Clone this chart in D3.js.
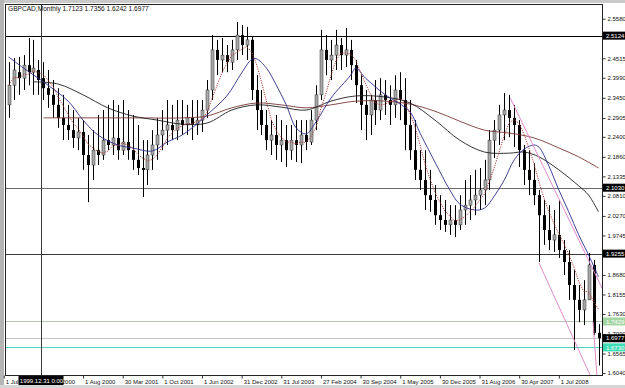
<!DOCTYPE html>
<html><head><meta charset="utf-8">
<script src="https://cdn.jsdelivr.net/npm/d3@7"></script>
<style>
body{margin:0;background:#fff;}
svg{display:block;}
text{font-family:"Liberation Sans",Arial,sans-serif;}
</style>
</head><body>
<svg id="c" width="625" height="388"></svg>
<script>
// ---------- DATA ----------
const symbolTitle = "GBPCAD,Monthly  1.7123 1.7356 1.6242 1.6977";
const opens = [2.326,2.379,2.414,2.398,2.433,2.414,2.420,2.398,2.371,2.353,
 2.326,2.291,2.272,2.258,2.237,2.253,2.191,2.164,2.204,2.191,
 2.231,2.218,2.237,2.204,2.226,2.204,2.178,2.156,2.151,2.191,
 2.218,2.245,2.258,2.272,2.258,2.285,2.272,2.291,2.272,2.285,
 2.312,2.366,2.474,2.447,2.460,2.441,2.474,2.514,2.487,2.501,
 2.366,2.312,2.272,2.231,2.245,2.218,2.231,2.204,2.231,2.218,
 2.245,
 2.226,2.285,2.353,2.474,2.447,2.460,2.487,2.460,2.474,2.433,
 2.379,2.326,2.299,2.339,2.312,2.353,2.339,2.326,2.366,2.339,
 2.272,2.204,2.151,2.124,2.083,2.070,2.029,2.016,2.003,2.016,
 2.003,2.043,2.056,2.070,2.083,2.097,2.124,2.231,2.258,2.299,
 2.312,2.291,2.272,2.204,2.151,2.124,2.083,2.029,1.989,1.962,
 1.976,1.935,1.903,1.841,1.801,1.774,1.801,1.895,1.7123];
const highs = [2.441,2.452,2.455,2.460,2.506,2.501,2.447,2.441,2.420,2.393,
 2.371,2.353,2.326,2.312,2.291,2.285,2.245,2.258,2.299,2.312,
 2.326,2.339,2.326,2.339,2.312,2.299,2.272,2.231,2.231,2.258,
 2.291,2.312,2.339,2.326,2.339,2.339,2.326,2.339,2.339,2.339,
 2.393,2.514,2.501,2.506,2.487,2.501,2.549,2.541,2.536,2.509,
 2.406,2.366,2.312,2.285,2.299,2.285,2.272,2.272,2.285,2.285,
 2.285,
 2.312,2.379,2.528,2.514,2.501,2.528,2.506,2.533,2.501,2.447,
 2.406,2.366,2.353,2.393,2.398,2.393,2.379,2.406,2.414,2.398,
 2.339,2.285,2.204,2.204,2.151,2.110,2.083,2.070,2.056,2.056,
 2.083,2.124,2.137,2.151,2.156,2.178,2.258,2.285,2.326,2.358,
 2.353,2.326,2.285,2.218,2.204,2.169,2.097,2.070,2.056,2.043,
 2.070,1.962,1.935,1.881,1.841,1.854,1.927,1.908,1.7356];
const lows = [2.291,2.339,2.353,2.366,2.379,2.353,2.353,2.339,2.318,2.291,
 2.264,2.231,2.231,2.210,2.204,2.151,2.064,2.124,2.164,2.178,
 2.204,2.191,2.178,2.191,2.178,2.151,2.137,2.078,2.110,2.151,
 2.178,2.204,2.218,2.231,2.231,2.245,2.245,2.231,2.245,2.253,
 2.291,2.339,2.406,2.414,2.414,2.420,2.447,2.460,2.447,2.339,
 2.258,2.245,2.204,2.191,2.178,2.172,2.159,2.178,2.172,2.169,
 2.204,
 2.218,2.258,2.339,2.406,2.393,2.420,2.420,2.428,2.393,2.331,
 2.258,2.231,2.245,2.272,2.285,2.299,2.272,2.291,2.285,2.204,
 2.178,2.124,2.097,2.043,2.038,2.003,1.989,1.984,1.976,1.970,
 1.989,2.003,2.016,2.029,2.043,2.056,2.097,2.183,2.218,2.231,
 2.239,2.212,2.159,2.110,2.083,2.056,1.903,1.949,1.935,1.930,
 1.914,1.868,1.801,1.666,1.741,1.733,1.801,1.706,1.6242];
const closes = [2.379,2.420,2.398,2.433,2.414,2.425,2.393,2.371,2.353,2.326,
 2.291,2.272,2.258,2.237,2.253,2.191,2.164,2.204,2.191,2.231,
 2.218,2.237,2.204,2.226,2.204,2.178,2.156,2.151,2.191,2.218,
 2.245,2.258,2.272,2.258,2.285,2.272,2.291,2.272,2.285,2.312,
 2.366,2.474,2.447,2.460,2.441,2.474,2.514,2.487,2.501,2.366,
 2.312,2.272,2.231,2.245,2.218,2.231,2.204,2.231,2.218,2.245,
 2.226,
 2.285,2.353,2.474,2.447,2.460,2.487,2.460,2.474,2.433,2.379,
 2.326,2.299,2.339,2.312,2.353,2.339,2.326,2.366,2.339,2.272,
 2.204,2.151,2.124,2.083,2.070,2.029,2.016,2.003,2.016,2.003,
 2.043,2.056,2.070,2.083,2.097,2.124,2.231,2.258,2.299,2.312,
 2.291,2.272,2.204,2.151,2.124,2.083,2.029,1.989,1.962,1.976,
 1.935,1.903,1.841,1.801,1.774,1.801,1.895,1.7123,1.6977];

// moving averages (bar index, price)
const blueIdx = [0,3,7,12,15,18,22,25,29,32,35,38,40,44,47,49,50,52,54,56,58,60,62,65,69,70,72,76,79,81,83,86,89,91,94,96,98,100,102,104,106,107,109,111,113,115,117,119];
const blueVal = [2.455,2.425,2.388,2.336,2.285,2.245,2.218,2.210,2.202,2.226,2.245,2.275,2.299,2.350,2.412,2.448,2.450,2.425,2.379,2.326,2.264,2.248,2.280,2.344,2.406,2.425,2.398,2.353,2.328,2.307,2.250,2.172,2.097,2.059,2.043,2.048,2.081,2.124,2.178,2.207,2.218,2.212,2.161,2.097,2.038,1.976,1.922,1.863];
const blackIdx = [5,10,15,20,25,30,35,40,45,50,55,60,65,70,76,81,86,91,96,101,104,107,111,115,117,119];
const blackVal = [2.388,2.382,2.353,2.318,2.296,2.285,2.274,2.277,2.312,2.326,2.320,2.312,2.336,2.350,2.347,2.331,2.285,2.231,2.199,2.196,2.199,2.186,2.151,2.108,2.083,2.038];
const maroonIdx = [7,15,25,35,40,45,50,55,60,65,70,76,81,86,91,96,101,106,111,115,119];
const maroonVal = [2.291,2.291,2.291,2.291,2.296,2.318,2.331,2.326,2.318,2.326,2.336,2.336,2.328,2.309,2.282,2.258,2.250,2.237,2.210,2.186,2.156];
const fastPeriod = 5;

// trend lines (bar index, price)
const trendLines = [
  [[101.2,2.3444],[119.7,1.8329]],
  [[107.0,1.9002],[119.3,1.5400]],
  [[117.9,1.7413],[119.0,1.5400]]
];

const priceTicks = [2.5580,2.4515,2.3990,2.3450,2.2905,2.2400,2.1860,2.1335,2.0810,2.0270,1.9745,1.8680,1.8155,1.7630,1.7090,1.6565,1.6040];
const levelPrices = [2.5124,2.1030,1.9255,1.7429,1.6977,1.6730];
const levelLineColors = ["#000000","#6a6a6a","#3a3a3a","#b3c7b3","#c4c4c4","#4dd3c6"];
const levelBoxColors  = ["#000000","#000000","#000000","#a3d6a3","#000000","#3ddbb6"];

const timeTickIndex = [-1,7,15,23,31,39,47,55,63,71,79,87,95,103,111];
const timeTickLabels = ["1 Jul 1999","1 Jan 2000","1 Aug 2000","30 Mar 2001","1 Oct 2001","1 Jun 2002","31 Dec 2002","31 Jul 2003","27 Feb 2004","30 Sep 2004","1 May 2005","30 Dec 2005","31 Aug 2006","30 Apr 2007","1 Jul 2008"];
const cursorIndex = 6.5;
const cursorLabel = "1999.12.31 0:00";

// ---------- LAYOUT ----------
const W=625,H=388,L=5,R=602,T=4,B=375;
const svg=d3.select("#c");
const x=d3.scaleLinear().domain([0,119]).range([8.7,598.5]);
const y=d3.scaleLinear().domain([1.5987,2.5976]).range([B,T]);

svg.append("rect").attr("width",W).attr("height",H).attr("fill","#fff");
// window chrome
svg.append("rect").attr("x",0).attr("y",0).attr("width",W).attr("height",3).attr("fill","#c9c9c9");
svg.append("rect").attr("x",0).attr("y",0).attr("width",4).attr("height",H).attr("fill","#b5b5b5");
svg.append("rect").attr("x",0).attr("y",385).attr("width",W).attr("height",3).attr("fill","#d6d6d6");

svg.append("defs").append("clipPath").attr("id","clip")
  .append("rect").attr("x",L).attr("y",T).attr("width",R-L).attr("height",B-T);
const plot=svg.append("g").attr("clip-path","url(#clip)");

// horizontal level lines
levelPrices.forEach((p,i)=>{
  const yy=Math.round(y(p))+0.5;
  plot.append("line").attr("x1",L).attr("x2",R).attr("y1",yy).attr("y2",yy)
    .attr("stroke",levelLineColors[i]).attr("stroke-width",1);
});
// cursor vertical line
const cx=Math.round(x(cursorIndex))+0.5;
plot.append("line").attr("x1",cx).attr("x2",cx).attr("y1",T).attr("y2",B)
  .attr("stroke","#3a3a3a").attr("stroke-width",1);

// candles
const bars=d3.range(closes.length).map(i=>({i,o:opens[i],h:highs[i],l:lows[i],c:closes[i]}));
const cg=plot.append("g");
bars.forEach(d=>{
  const xx=Math.round(x(d.i))+0.5;
  cg.append("line").attr("x1",xx).attr("x2",xx).attr("y1",y(d.h)).attr("y2",y(d.l))
    .attr("stroke","#000").attr("stroke-width",1);
  const top=y(Math.max(d.o,d.c)), bot=y(Math.min(d.o,d.c));
  const bull=d.c>=d.o;
  cg.append("rect").attr("x",xx-1.5).attr("y",top).attr("width",3).attr("height",Math.max(1,bot-top))
    .attr("fill",bull?"#a9a9a9":"#000").attr("stroke",bull?"#333":"none").attr("stroke-width",bull?0.5:0);
});

// moving averages
const mk=(idx,val)=>idx.map((v,k)=>[v,val[k]]);
const line=d3.line().x(d=>x(d[0])).y(d=>y(d[1])).curve(d3.curveCatmullRom);
plot.append("path").attr("d",line(mk(maroonIdx,maroonVal))).attr("fill","none").attr("stroke","#7a3535").attr("stroke-width",0.9);
plot.append("path").attr("d",line(mk(blackIdx,blackVal))).attr("fill","none").attr("stroke","#1e1e1e").attr("stroke-width",0.9);
plot.append("path").attr("d",line(mk(blueIdx,blueVal))).attr("fill","none").attr("stroke","#2e2e8e").attr("stroke-width",0.9);
const fast=closes.map((c,i)=>[i,d3.mean(closes.slice(Math.max(0,i-fastPeriod+1),i+1))]);
plot.append("path").attr("d",d3.line().x(d=>x(d[0])).y(d=>y(d[1]))(fast)).attr("fill","none")
  .attr("stroke","#b03a3a").attr("stroke-width",1).attr("stroke-dasharray","1.2,1.2");

// trend lines
trendLines.forEach(t=>{
  plot.append("line").attr("x1",x(t[0][0])).attr("y1",y(t[0][1])).attr("x2",x(t[1][0])).attr("y2",y(t[1][1]))
    .attr("stroke","#e08cc8").attr("stroke-width",1);
});

// frame
svg.append("rect").attr("x",L+0.5).attr("y",T+0.5).attr("width",R-L).attr("height",B-T)
  .attr("fill","none").attr("stroke","#222").attr("stroke-width",1);

// right price axis
const ay=d3.axisRight(y).tickValues(priceTicks).tickFormat(d3.format(".4f")).tickSize(3).tickPadding(2);
const gy=svg.append("g").attr("transform",`translate(${R+0.5},0)`).call(ay);
gy.select(".domain").remove();
gy.selectAll("line").attr("stroke","#333");
gy.selectAll("text").attr("font-size",6).attr("font-family","Liberation Sans, Arial, sans-serif").attr("fill","#111");

// level boxes
levelPrices.forEach((p,i)=>{
  const yy=y(p);
  svg.append("rect").attr("x",R+1).attr("y",yy-4).attr("width",22).attr("height",8).attr("fill",levelBoxColors[i]);
  svg.append("text").attr("x",R+4).attr("y",yy+2.2).attr("font-size",6).attr("fill","#fff")
    .text(d3.format(".4f")(p));
});

// bottom time axis
const ax=d3.axisBottom(x).tickValues(timeTickIndex).tickFormat((d,i)=>timeTickLabels[i]).tickSize(3).tickPadding(1);
const gx=svg.append("g").attr("transform",`translate(0,${B+0.5})`).call(ax);
gx.select(".domain").remove();
gx.selectAll("line").attr("stroke","#333");
gx.selectAll("text").attr("font-size",6).attr("font-family","Liberation Sans, Arial, sans-serif")
  .attr("text-anchor","start").attr("x",1.5).attr("fill","#111");

// cursor date box
svg.append("rect").attr("x",cx-23).attr("y",376).attr("width",45).attr("height",9).attr("fill","#000");
svg.append("text").attr("x",cx).attr("y",383).attr("text-anchor","middle").attr("font-size",6).attr("fill","#fff").text(cursorLabel);

// title
svg.append("text").attr("x",8).attr("y",11).attr("font-size",6.6).attr("fill","#111").text(symbolTitle);
</script>
</body></html>
